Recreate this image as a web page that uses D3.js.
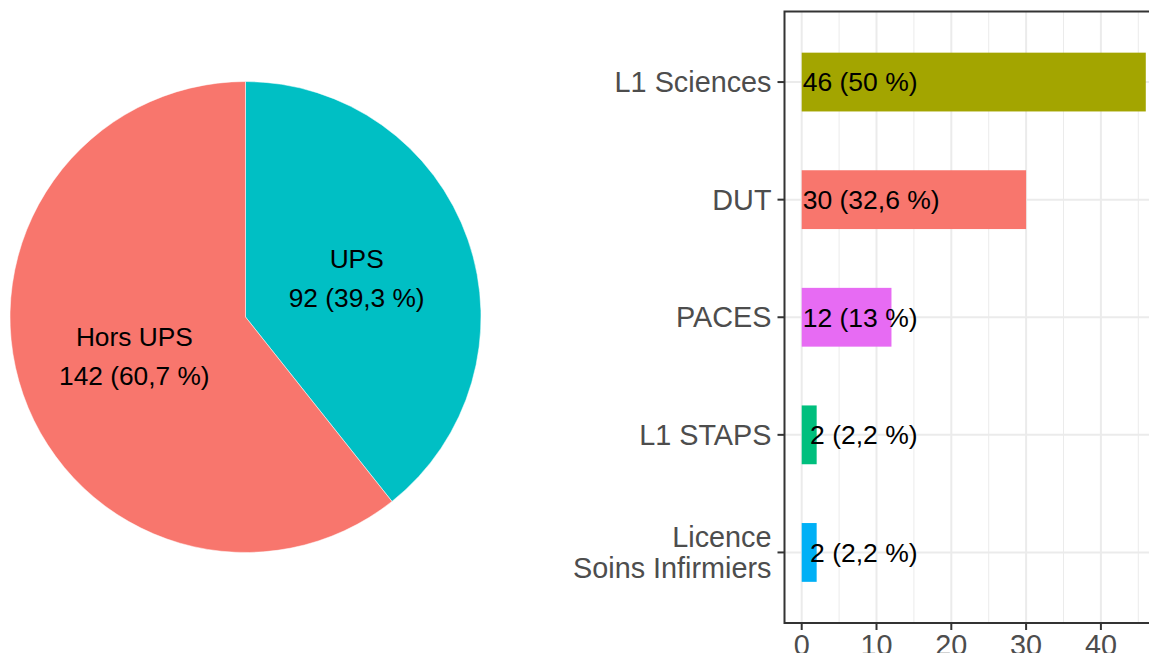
<!DOCTYPE html>
<html>
<head>
<meta charset="utf-8">
<script src="https://cdn.jsdelivr.net/npm/d3@7"></script>
<style>
  body { margin: 0; background: #fff; }
  svg { display: block; font-family: "Liberation Sans", Arial, Helvetica, sans-serif; }
</style>
</head>
<body>
<div id="chart"></div>
<script>
// pie data
const pieCategories = ["UPS", "Hors UPS"];
const pieValues = [92, 142];
const pieColors = ["#00BFC4", "#F8766D"];

// bar data (top to bottom)
const barCategories = ["L1 Sciences", "DUT", "PACES", "L1 STAPS", "Licence\nSoins Infirmiers"];
const barValues = [46, 30, 12, 2, 2];
const barColors = ["#A3A500", "#F8766D", "#E76BF3", "#00BF7D", "#00B0F6"];
const xTicks = [0, 10, 20, 30, 40];
const xMinorTicks = [5, 15, 25, 35, 45];

const width = 1149, height = 653;

// percent like "39,3" or "50"
const fmtPct = (v, total) => {
    const p = Math.round(v / total * 1000) / 10;
    return String(p).replace(".", ",");
};

const svg = d3.select("#chart")
    .append("svg")
    .attr("width", width)
    .attr("height", height);

// ---------- Pie ----------
const pieCx = 245.5, pieCy = 317, pieR = 235.5;
const pieTotal = d3.sum(pieValues);

const pie = d3.pie().sort(null).value(d => d.value);
const arcs = pie(pieCategories.map((c, i) => ({ name: c, value: pieValues[i], color: pieColors[i] })));
const arc = d3.arc().innerRadius(0).outerRadius(pieR);

const pg = svg.append("g").attr("transform", `translate(${pieCx},${pieCy})`);

pg.selectAll("path")
    .data(arcs)
    .enter()
    .append("path")
    .attr("d", arc)
    .attr("fill", d => d.data.color)
    .attr("stroke", "#fff")
    .attr("stroke-width", 0.5);

arcs.forEach(d => {
    const [cx, cy] = arc.centroid(d);
    const t = pg.append("text")
        .attr("text-anchor", "middle")
        .attr("fill", "#000")
        .style("font-size", "26.3px");
    t.append("tspan").attr("x", cx).attr("y", cy - 19).attr("dy", "0.35em").text(d.data.name);
    t.append("tspan").attr("x", cx).attr("y", cy + 20).attr("dy", "0.35em")
        .text(`${d.data.value} (${fmtPct(d.data.value, pieTotal)} %)`);
});

// ---------- Bars ----------
const barTotal = d3.sum(barValues);
const panel = { left: 784.5, top: 11.5, bottom: 623 };

const x = d3.scaleLinear()
    .domain([-2.3, 48.3])
    .range([panel.left, panel.left + 50.6 * 7.48]);

const y = d3.scalePoint()
    .domain(barCategories)
    .range([panel.top, panel.bottom])
    .padding(0.6);

const bandH = y.step() * 0.5;
const bg = svg.append("g");

// grid
bg.selectAll(".minor")
    .data(xMinorTicks)
    .enter()
    .append("line")
    .attr("x1", d => x(d)).attr("x2", d => x(d))
    .attr("y1", panel.top).attr("y2", panel.bottom)
    .attr("stroke", "#EBEBEB")
    .attr("stroke-width", 1);

bg.selectAll(".major")
    .data(xTicks)
    .enter()
    .append("line")
    .attr("x1", d => x(d)).attr("x2", d => x(d))
    .attr("y1", panel.top).attr("y2", panel.bottom)
    .attr("stroke", "#EBEBEB")
    .attr("stroke-width", 2);

bg.selectAll(".hgrid")
    .data(barCategories)
    .enter()
    .append("line")
    .attr("x1", panel.left).attr("x2", width + 20)
    .attr("y1", d => y(d)).attr("y2", d => y(d))
    .attr("stroke", "#EBEBEB")
    .attr("stroke-width", 2);

// bars
bg.selectAll(".bar")
    .data(barCategories)
    .enter()
    .append("rect")
    .attr("x", x(0))
    .attr("y", d => y(d) - bandH / 2)
    .attr("width", (d, i) => x(barValues[i]) - x(0))
    .attr("height", bandH)
    .attr("fill", (d, i) => barColors[i]);

// value labels (count padded to 2 chars, like sprintf "%2d")
bg.selectAll(".lbl")
    .data(barCategories)
    .enter()
    .append("text")
    .attr("x", x(0) + 1)
    .attr("y", d => y(d))
    .attr("dy", "0.35em")
    .attr("fill", "#000")
    .style("font-size", "26.5px")
    .style("white-space", "pre")
    .attr("xml:space", "preserve")
    .text((d, i) => `${String(barValues[i]).padStart(2, " ")} (${fmtPct(barValues[i], barTotal)} %)`);

// panel border
bg.append("rect")
    .attr("x", panel.left)
    .attr("y", panel.top)
    .attr("width", x.range()[1] - panel.left)
    .attr("height", panel.bottom - panel.top)
    .attr("fill", "none")
    .attr("stroke", "#333333")
    .attr("stroke-width", 2);

// y axis ticks + labels
barCategories.forEach(c => {
    bg.append("line")
        .attr("x1", panel.left - 7).attr("x2", panel.left)
        .attr("y1", y(c)).attr("y2", y(c))
        .attr("stroke", "#333333")
        .attr("stroke-width", 2);
    const lines = c.split("\n");
    const t = bg.append("text")
        .attr("text-anchor", "end")
        .attr("fill", "#4D4D4D")
        .style("font-size", "28.8px");
    lines.forEach((l, k) => {
        t.append("tspan")
            .attr("x", panel.left - 13)
            .attr("y", y(c) + (k - (lines.length - 1) / 2) * 31)
            .attr("dy", "0.35em")
            .text(l);
    });
});

// x axis ticks + labels
xTicks.forEach(v => {
    bg.append("line")
        .attr("x1", x(v)).attr("x2", x(v))
        .attr("y1", panel.bottom).attr("y2", panel.bottom + 7)
        .attr("stroke", "#333333")
        .attr("stroke-width", 2);
    bg.append("text")
        .attr("x", x(v))
        .attr("y", panel.bottom + 12)
        .attr("dy", "0.71em")
        .attr("text-anchor", "middle")
        .attr("fill", "#4D4D4D")
        .style("font-size", "28.8px")
        .text(v);
});
</script>
</body>
</html>
